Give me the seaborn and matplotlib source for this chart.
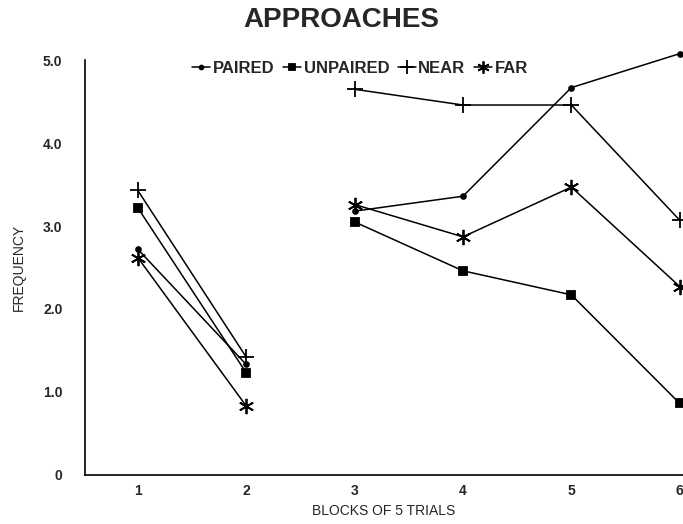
import matplotlib
matplotlib.use("Agg")
import matplotlib.pyplot as plt
from matplotlib.lines import Line2D
import seaborn as sns
import pandas as pd

# blocks de 5 essais, deux segments (1-2 et 3-6)
blocks = [1, 2, 3, 4, 5, 6]
segment = ["a", "a", "b", "b", "b", "b"]
paired = [2.72, 1.33, 3.18, 3.36, 4.67, 5.08]
unpaired = [3.22, 1.23, 3.05, 2.46, 2.17, 0.86]
near = [3.43, 1.42, 4.65, 4.46, 4.46, 3.07]
far = [2.62, 0.83, 3.26, 2.87, 3.47, 2.27]

series_names = ["PAIRED", "UNPAIRED", "NEAR", "FAR"]
y_ticks = [0, 1, 2, 3, 4, 5]
y_tick_labels = ["0", "1.0", "2.0", "3.0", "4.0", "5.0"]

rows = []
for name, vals in zip(series_names, [paired, unpaired, near, far]):
    for b, s, v in zip(blocks, segment, vals):
        rows.append({"block": b, "value": v, "measure": name, "seg": s})
df = pd.DataFrame(rows)

markers = {"PAIRED": "o", "UNPAIRED": "s", "NEAR": "+", "FAR": (6, 2, 0)}
sizes = {"PAIRED": 3.5, "UNPAIRED": 5.5, "NEAR": 12, "FAR": 11}

sns.set_style("white")
plt.rcParams["font.family"] = ["Liberation Sans", "DejaVu Sans"]

fig = plt.figure(figsize=(6.83, 5.24), dpi=100)
ax = fig.add_axes([0.124, 0.094, 0.876, 0.791])

for name in series_names:
    sub = df[df["measure"] == name]
    sns.lineplot(data=sub, x="block", y="value", units="seg", estimator=None,
                 color="black", lw=1.1, marker=markers[name], markersize=sizes[name],
                 markeredgewidth=1.3, markeredgecolor="black", ax=ax,
                 legend=False, clip_on=False)

ax.set_xlim(0.51, 6.03)
ax.set_ylim(0, 5.0)
ax.set_xticks(blocks)
ax.set_xticklabels([str(b) for b in blocks], fontweight="bold", fontsize=10)
ax.set_yticks(y_ticks)
ax.set_yticklabels(y_tick_labels, fontweight="bold", fontsize=10)
ax.tick_params(axis="y", direction="inout", length=10, width=1, pad=11)
ax.tick_params(axis="x", direction="in", length=6, width=0.8, pad=7)

for sp in ["top", "right"]:
    ax.spines[sp].set_visible(False)
for sp in ["left", "bottom"]:
    ax.spines[sp].set_color("black")
    ax.spines[sp].set_linewidth(1.2)

ax.set_xlabel("BLOCKS OF 5 TRIALS", fontsize=10, labelpad=4)
ax.set_ylabel("FREQUENCY", fontsize=10, labelpad=12)
fig.text(0.5, 0.962, "APPROACHES", ha="center", va="center",
         fontsize=20, fontweight="bold")

handles = [Line2D([0], [0], color="black", lw=1.1, marker=markers[n],
                  markersize=sizes[n] * 0.8, markeredgewidth=1.3) for n in series_names]
leg = ax.legend(handles, series_names, loc="upper center", bbox_to_anchor=(0.46, 1.035),
                ncol=4, frameon=False, handlelength=1.1, handletextpad=0.15,
                columnspacing=0.5, prop={"weight": "bold", "size": 12})

plt.savefig("out.png", dpi=100)
